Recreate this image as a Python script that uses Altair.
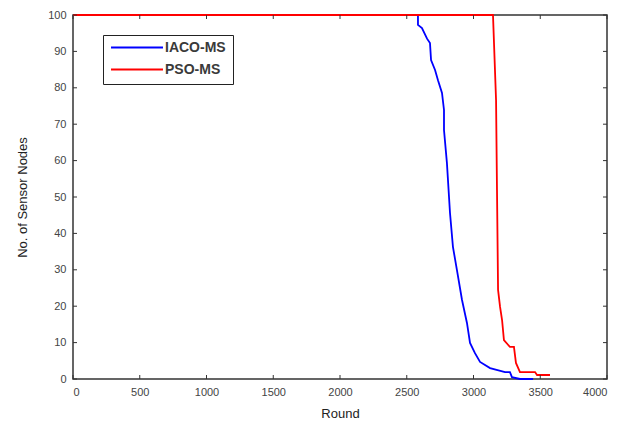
import altair as alt
import pandas as pd

# IACO-MS (blue) curve: round, alive nodes
iaco_round = [0, 2584, 2584, 2614, 2652, 2674, 2682, 2712, 2734, 2764, 2779, 2779, 2801,
              2824, 2846, 2876, 2914, 2951, 2974, 3011, 3049, 3124, 3236, 3273, 3288, 3348, 3446]
iaco_nodes = [100, 100, 97.3, 96.4, 93.5, 92.3, 87.6, 84.9, 82.1, 78.6, 73.9, 68.4, 59.3,
              45.6, 36.3, 29.9, 21.7, 15.4, 9.9, 7.1, 4.7, 3.0, 1.9, 1.9, 0.5, 0, 0]

# PSO-MS (red) curve
pso_round = [0, 3146, 3169, 3176, 3184, 3199, 3214, 3228, 3273, 3303, 3318, 3348, 3461, 3476, 3573]
pso_nodes = [100, 100, 76.6, 51.9, 24.5, 19.8, 16.2, 10.7, 8.8, 8.8, 4.4, 1.9, 1.9, 1.1, 1.1]

series_names = ["IACO-MS", "PSO-MS"]
series_colors = ["#0000ff", "#ff0000"]

x_ticks = [0, 500, 1000, 1500, 2000, 2500, 3000, 3500, 4000]
y_ticks = [0, 10, 20, 30, 40, 50, 60, 70, 80, 90, 100]

W, H = 534, 364

rows = []
for i, (r, n) in enumerate(zip(iaco_round, iaco_nodes)):
    rows.append({"Round": r, "Nodes": n, "Series": series_names[0], "order": i})
for i, (r, n) in enumerate(zip(pso_round, pso_nodes)):
    rows.append({"Round": r, "Nodes": n, "Series": series_names[1], "order": i})
df = pd.DataFrame(rows)

xscale = alt.Scale(domain=[0, 4000], nice=False, zero=False)
yscale = alt.Scale(domain=[0, 100], nice=False, zero=False)

x_axis = alt.Axis(values=x_ticks, format="d", title="Round", ticks=False, grid=False,
                  labelOverlap=False, labelPadding=7, titlePadding=10, domain=False)
y_axis = alt.Axis(values=y_ticks, format="d", title="No. of Sensor Nodes", ticks=False,
                  grid=False, labelOverlap=False, labelPadding=7, titlePadding=18,
                  domain=False)

lines = alt.Chart(df).mark_line(strokeWidth=1.8).encode(
    x=alt.X("Round:Q", scale=xscale, axis=x_axis, title="Round"),
    y=alt.Y("Nodes:Q", scale=yscale, axis=y_axis, title="No. of Sensor Nodes"),
    color=alt.Color("Series:N",
                    scale=alt.Scale(domain=series_names, range=series_colors),
                    legend=alt.Legend(title=None, orient="none", legendX=30, legendY=20,
                                      symbolType="stroke", symbolSize=2700,
                                      symbolStrokeWidth=2, labelFontSize=14,
                                      labelFont="Liberation Sans", labelFontWeight="bold",
                                      labelColor="#3a3a3a", labelOffset=1,
                                      clipHeight=11, rowPadding=7,
                                      fillColor="white", strokeColor="#222222",
                                      padding=7)),
    order="order:Q",
)

xt = pd.DataFrame({"t": x_ticks})
yt = pd.DataFrame({"t": y_ticks})
tick_color = "#333333"
xb = alt.Chart(xt).mark_rule(color=tick_color, strokeWidth=1).encode(
    x=alt.X("t:Q", scale=xscale, axis=x_axis, title="Round"),
    y=alt.value(H), y2=alt.value(H - 4))
xtp = alt.Chart(xt).mark_rule(color=tick_color, strokeWidth=1).encode(
    x=alt.X("t:Q", scale=xscale, axis=x_axis, title="Round"),
    y=alt.value(0), y2=alt.value(4))
yl = alt.Chart(yt).mark_rule(color=tick_color, strokeWidth=1).encode(
    y=alt.Y("t:Q", scale=yscale, axis=y_axis, title="No. of Sensor Nodes"),
    x=alt.value(0), x2=alt.value(4))
yr = alt.Chart(yt).mark_rule(color=tick_color, strokeWidth=1).encode(
    y=alt.Y("t:Q", scale=yscale, axis=y_axis, title="No. of Sensor Nodes"),
    x=alt.value(W), x2=alt.value(W - 4))

chart = alt.layer(lines, xb, xtp, yl, yr).properties(
    width=W, height=H,
    autosize=alt.AutoSizeParams(type="none"),
    padding={"left": 65, "top": 7, "right": 16, "bottom": 46},
).configure_view(
    stroke="#333333", strokeWidth=1.5
).configure_axis(
    labelFont="Liberation Sans", titleFont="Liberation Sans",
    labelFontSize=11, titleFontSize=13, labelColor="#444444", titleColor="#222222",
    titleFontWeight="normal",
)

chart.save("out.html", embed_options={"renderer": "svg", "actions": False})
